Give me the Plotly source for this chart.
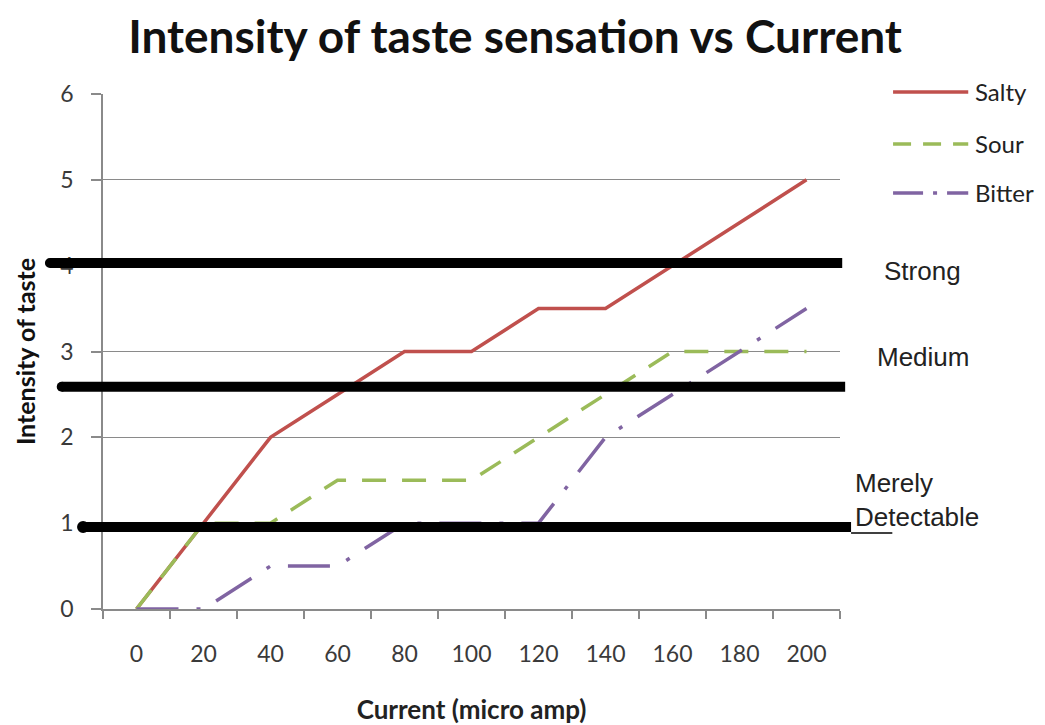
import plotly.graph_objects as go

# ---- data ----
current = ["0", "20", "40", "60", "80", "100", "120", "140", "160", "180", "200"]
salty = [0, 1, 2, 2.5, 3, 3, 3.5, 3.5, 4, 4.5, 5]
sour = [0, 1, 1, 1.5, 1.5, 1.5, 2, 2.5, 3, 3, 3]
bitter = [0, 0, 0.5, 0.5, 1, 1, 1, 2, 2.5, 3, 3.5]
series_names = ["Salty", "Sour", "Bitter"]

level_values = [4.03, 2.59, 0.955]
level_labels = ["Strong", "Medium", "Merely<br>Detectable"]

# ---- styles ----
colors = ["#C0504D", "#9BBB59", "#8064A2"]
dashes = ["solid", "24px,16px", "42px,18px,4px,18px"]
legend_dashes = ["solid", "18px,12px", "30px,10px,4px,10px"]
TICK_FONT = dict(family="Lato, Noto Sans, sans-serif", size=23, color="#3a3a3a")
GRID = "#8a8a8a"

fig = go.Figure()
for name, vals, col, dash in zip(series_names, [salty, sour, bitter], colors, dashes):
    fig.add_trace(go.Scatter(
        x=current, y=vals, name=name, mode="lines",
        line=dict(color=col, width=3.5, dash=dash),
        showlegend=False,
    ))

# custom legend (long line samples like the original)
legend_y = [1.004, 0.903, 0.808]  # paper coords for Salty, Sour, Bitter
for name, col, dash, ly in zip(series_names, colors, legend_dashes, legend_y):
    fig.add_shape(type="line", xref="paper", yref="paper",
                  x0=1.072, x1=1.174, y0=ly, y1=ly,
                  line=dict(color=col, width=3.5, dash=dash))
    fig.add_annotation(text=name, xref="paper", yref="paper",
                       x=1.181, y=ly, xanchor="left", yanchor="middle",
                       showarrow=False,
                       font=dict(family="Lato, Noto Sans, sans-serif", size=24, color="#222"))

# thick black threshold lines with rounded left ends
line_extents = [(-0.072, 1.003), (-0.056, 1.007), (-0.027, 1.015)]
cap_r = [(0.0068, 0.058), (0.0068, 0.058), (0.0082, 0.07)]
for val, (x0, x1), (rx, ry) in zip(level_values, line_extents, cap_r):
    fig.add_shape(type="line", xref="paper", yref="y",
                  x0=x0, x1=x1, y0=val, y1=val,
                  line=dict(color="black", width=10))
    fig.add_shape(type="circle", xref="paper", yref="y",
                  x0=x0 - rx, x1=x0 + rx, y0=val - ry, y1=val + ry,
                  fillcolor="black", line=dict(color="black", width=0))
# thin tail under the lowest label
fig.add_shape(type="line", xref="paper", yref="y",
              x0=1.015, x1=1.071, y0=level_values[2] - 0.07, y1=level_values[2] - 0.07,
              line=dict(color="black", width=1.5))

# level labels
label_pos = [(1.057, 3.94, "left"), (1.047, 2.94, "left"), (1.018, 1.27, "left")]
for txt, (lx, ly, anc) in zip(level_labels, label_pos):
    fig.add_annotation(text=txt, xref="paper", yref="y", x=lx, y=ly,
                       xanchor=anc, yanchor="middle", align="left", showarrow=False,
                       font=dict(family="Liberation Sans, Arial, sans-serif", size=26, color="#222"))

# the page body has an 8px default margin, so the figure is sized 8px smaller
fig.update_layout(
    width=1037, height=717,
    margin=dict(l=95, r=205, t=86, b=116),
    paper_bgcolor="white", plot_bgcolor="white",
    title=dict(text="Intensity of taste sensation vs Current",
               x=0.489, xanchor="center", y=0.9596, yanchor="middle",
               font=dict(family="Lato, Noto Sans, sans-serif", size=46, color="#111", weight=700)),
)
fig.update_xaxes(
    type="category", range=[-0.5, 10.5], tickson="boundaries", ticks="outside", ticklen=8,
    tickcolor=GRID, tickwidth=1.5, automargin=False,
    showline=True, linecolor=GRID, linewidth=1.5, showgrid=False,
    tickfont=TICK_FONT, ticklabelstandoff=24,
    title=dict(text="Current (micro amp)", standoff=37,
               font=dict(family="Lato, Noto Sans, sans-serif", size=26, color="#222", weight=700)),
)
fig.update_yaxes(
    range=[0, 6], dtick=1, ticks="outside", ticklen=10, tickcolor=GRID, tickwidth=1.5,
    showline=True, linecolor=GRID, linewidth=1.5, automargin=False,
    showgrid=True, gridcolor=GRID, gridwidth=1.2, zeroline=False,
    tickfont=TICK_FONT, ticklabelstandoff=13,
    title=dict(text="Intensity of taste", standoff=18,
               font=dict(family="Lato, Noto Sans, sans-serif", size=25, color="#111", weight=700)),
)

fig.write_html("out.html")
